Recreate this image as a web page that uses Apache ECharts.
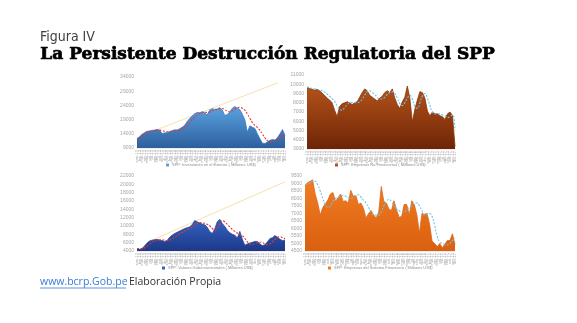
<!DOCTYPE html>
<html>
<head>
<meta charset="utf-8">
<script src="https://cdn.jsdelivr.net/npm/echarts@6/dist/echarts.min.js"></script>
<style>
html,body{margin:0;padding:0;background:#fff;}
#c{width:577px;height:323px;}
</style>
</head>
<body>
<div id="c"></div>
<script>
var categories = [
"ene-13","feb-13","mar-13","abr-13","may-13","jun-13","jul-13","ago-13","sep-13","oct-13","nov-13","dic-13",
"ene-14","feb-14","mar-14","abr-14","may-14","jun-14","jul-14","ago-14","sep-14","oct-14","nov-14","dic-14",
"ene-15","feb-15","mar-15","abr-15","may-15","jun-15","jul-15","ago-15","sep-15","oct-15","nov-15","dic-15",
"ene-16","feb-16","mar-16","abr-16","may-16","jun-16","jul-16","ago-16","sep-16","oct-16","nov-16","dic-16",
"ene-17","feb-17","mar-17","abr-17","may-17","jun-17","jul-17","ago-17","sep-17","oct-17","nov-17","dic-17"];

var exteriorNames = "SPP: Inversiones en el Exterior ( Millones US$)";
var exterior = [12300,13000,13800,14400,14900,15000,15200,15300,15500,15300,14100,14300,14400,14800,15100,15400,15300,15800,16300,17000,18300,19400,20300,21100,21500,21400,21800,21400,20600,22400,22800,22600,22700,23200,22400,20400,20800,21700,23000,23600,23000,22500,20900,18900,14600,16800,16300,15900,14000,12300,10700,10600,11100,11700,12000,11800,12700,14000,15500,13400];
var exteriorMA = [12300,12700,13300,13900,14400,14800,15100,15200,15300,15300,15100,14900,14700,14700,14800,15000,15200,15400,15700,16200,17000,18000,19000,19900,20700,21200,21500,21600,21500,21700,22100,22400,22600,22800,22900,22500,22000,21700,22100,22700,23200,23300,23000,22300,21000,19500,18000,17000,16200,15200,13900,12600,11600,11100,11300,11700,12000,12500,13300,13900];
var exteriorTrend = [null,null,null,null,null,null,null,null,15500,null,null,null,null,null,null,null,null,null,null,null,null,null,null,null,null,null,null,null,null,null,null,null,null,null,null,null,null,null,null,null,null,null,null,null,null,null,null,null,null,null,null,null,null,null,null,null,31900,null,null,null];

var noFinName = "SPP: Empresas No Financieras ( Millones US$)";
var noFin = [9660,9550,9450,9350,9450,9300,9050,8800,8500,8300,8000,7200,6500,7600,7900,8000,8100,8000,7800,8000,8100,8600,9100,9500,9300,8800,8600,8400,8200,8500,8700,9100,9300,9100,9500,8500,7800,7400,8100,8600,9800,8500,5950,7300,8300,9200,9100,8500,7100,6600,7000,6800,6800,6600,6500,6200,6800,7000,6600,3300];
var noFinMA = [9700,9650,9550,9500,9450,9400,9300,9150,8950,8700,8450,8150,7700,7300,7200,7500,7800,8000,8050,8000,8000,8100,8400,8800,9200,9300,9100,8900,8600,8400,8400,8600,8900,9100,9200,9000,8500,7900,7700,8000,8500,8800,8400,7600,7400,8000,8700,9000,8500,7700,7000,6800,6800,6800,6700,6600,6400,6500,6700,5000];

var gobName = "SPP: Valores Gubernamentales ( Millones US$)";
var gob = [4600,4400,4600,5200,5900,6400,6600,6700,6800,6600,6500,6300,6500,7300,7800,8200,8500,8800,9100,9400,9600,9800,10300,11300,11000,10700,10500,10300,9700,8700,8200,9300,11000,11600,10600,9900,9000,8400,8000,7800,7100,8700,6800,5400,5700,5900,6100,6300,6300,5700,5300,5500,6200,7000,7200,7700,7300,6800,6500,6600];
var gobMA = [4600,4550,4500,4700,5100,5600,6000,6400,6600,6700,6700,6600,6500,6600,6900,7300,7700,8100,8500,8800,9100,9400,9700,10100,10600,10800,10800,10600,10400,10000,9400,9000,9300,10500,11300,11000,10400,9800,9200,8700,8300,8000,7700,7000,6200,5700,5600,5800,6000,6100,6000,5700,5500,5700,6200,6800,7300,7400,7200,6900];
var gobTrend = [null,null,null,null,null,null,6600,null,null,null,null,null,null,null,null,null,null,null,null,null,null,null,null,null,null,null,null,null,null,null,null,null,null,null,null,null,null,null,null,null,null,null,null,null,null,null,null,null,null,null,null,null,null,null,null,null,null,null,null,20600];

var finName = "SPP: Empresas del Sistema Financiero ( Millones US$)";
var fin = [8880,9050,9150,9250,8300,7700,6900,7400,7650,7900,8300,8400,7800,8050,8300,7800,7850,7700,8550,8150,8200,7600,7700,7350,6700,7000,7200,6900,6700,7100,8800,7800,7700,7300,7200,7850,7250,6750,6800,7600,7600,6900,7850,7600,6900,5700,7000,6950,7000,6300,5150,5000,4800,5000,4720,4950,5200,5200,5650,4950];
var finMA = [8900,8950,9050,9150,9150,8900,8500,8000,7600,7400,7500,7800,8000,8100,8150,8200,8150,8050,8000,8100,8200,8250,8100,7900,7700,7400,7100,6900,6900,6900,7100,7500,7800,7950,7800,7500,7300,7200,7100,7100,7250,7400,7500,7700,7700,7500,7200,6900,6950,7000,6800,6200,5500,5100,5000,4950,4900,5000,5200,5350];

var yTop1 = [9000, 34000, 5000];
var yTop2 = [3000, 11000, 1000];
var yBot1 = [4000, 22000, 2000];
var yBot2 = [4500, 9500, 500];

var chart = echarts.init(document.getElementById('c'), null, {renderer:'canvas'});

var grids = [
  {left:137, top:77, width:148, height:71},
  {left:307, top:75, width:148, height:74},
  {left:137, top:176, width:148, height:75},
  {left:305, top:176, width:150, height:75}
];
var ranges = [yTop1, yTop2, yBot1, yBot2];

function grad(c1, c2){
  return new echarts.graphic.LinearGradient(0,0,0,1,[{offset:0,color:c1},{offset:1,color:c2}]);
}

var xAxes = [], yAxes = [];
for (var g=0; g<4; g++){
  xAxes.push({
    type:'category', gridIndex:g, data:categories, boundaryGap:false,
    axisLine:{show:true, lineStyle:{color:'#d9d9d9', width:0.5}},
    axisTick:{show:false},
    axisLabel:{rotate:90, fontSize:4, color:'#a6a6a6', interval:0, margin:2, fontFamily:'Liberation Sans'}
  });
  yAxes.push({
    type:'value', gridIndex:g, min:ranges[g][0], max:ranges[g][1], interval:ranges[g][2],
    axisLine:{show:false}, axisTick:{show:false}, splitLine:{show:false},
    axisLabel:{fontSize:5, color:'#a6a6a6', margin:3, fontFamily:'Liberation Sans',
      formatter:function(v){return String(v);}}
  });
}

function areaSeries(name, data, idx, lineColor, c1, c2){
  return {name:name, type:'line', xAxisIndex:idx, yAxisIndex:idx, data:data, symbol:'none',
    lineStyle:{color:lineColor, width:0.8}, itemStyle:{color:c1},
    areaStyle:{color:grad(c1,c2), opacity:1}, z:2};
}
function maSeries(data, idx, color){
  return {type:'line', xAxisIndex:idx, yAxisIndex:idx, data:data, symbol:'none', smooth:true,
    lineStyle:{color:color, width:1.1, type:[2,1.5]}, z:3, silent:true};
}
function trendSeries(data, idx){
  return {type:'line', xAxisIndex:idx, yAxisIndex:idx, data:data, symbol:'none', connectNulls:true,
    lineStyle:{color:'#f8dfb0', width:1}, z:1, silent:true};
}

var series = [
  trendSeries(exteriorTrend, 0),
  areaSeries(exteriorNames, exterior, 0, '#3a78c2', '#5aa2e0', '#2e5f9e'),
  maSeries(exteriorMA, 0, '#e8372f'),
  areaSeries(noFinName, noFin, 1, '#8a3208', '#b4531a', '#6e2406'),
  maSeries(noFinMA, 1, '#6cc4e4'),
  trendSeries(gobTrend, 2),
  areaSeries(gobName, gob, 2, '#2a4aa0', '#3463c2', '#1d3888'),
  maSeries(gobMA, 2, '#e8372f'),
  areaSeries(finName, fin, 3, '#e0661a', '#f27c24', '#d9600f'),
  maSeries(finMA, 3, '#6cc4e4')
];

function legend(name, left, top){
  return {data:[name], left:left, top:top, itemWidth:3, itemHeight:3, itemGap:2, icon:'rect', padding:0,
    textStyle:{fontSize:4, color:'#8c8c8c', fontFamily:'Liberation Sans', padding:[0,0,0,-2]}};
}

chart.setOption({
  animation:false,
  grid:grids,
  xAxis:xAxes,
  yAxis:yAxes,
  series:series,
  legend:[
    legend(exteriorNames, 166, 163),
    legend(noFinName, 335, 163),
    legend(gobName, 162, 266),
    legend(finName, 328, 266)
  ],
  graphic:[
    {type:'text', left:40, top:30, style:{text:'Figura IV', fontSize:14, fontWeight:300, fontFamily:"'Liberation Sans Narrow','DejaVu Sans Condensed','Open Sans',sans-serif", fill:'#404040'}},
    {type:'text', left:40, top:46, style:{text:'La Persistente Destrucción Regulatoria del SPP', fontSize:17, fontWeight:'bold', fontFamily:'DejaVu Serif', fill:'#000', stroke:'#000', lineWidth:0.7}},
    {type:'text', left:40, top:277, style:{text:'www.bcrp.Gob.pe', fontSize:10.5, fontFamily:'Open Sans', fill:'#3a7bd5'}},
    {type:'line', shape:{x1:40, y1:288, x2:126, y2:288}, style:{stroke:'#3a7bd5', lineWidth:0.8}},
    {type:'text', left:129, top:277, style:{text:'Elaboración Propia', fontSize:10.5, fontFamily:'Open Sans', fill:'#333'}}
  ]
});
</script>
</body>
</html>
